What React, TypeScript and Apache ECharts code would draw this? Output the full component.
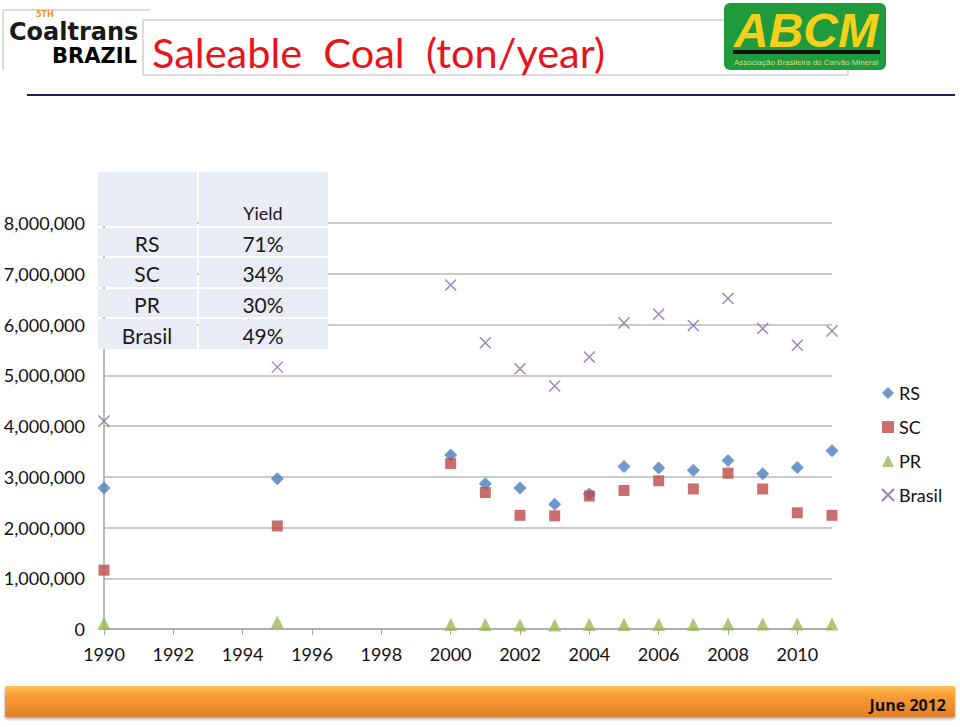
import React, { useEffect, useRef } from "react";
import * as echarts from "echarts";

const years = [1990, 1995, 2000, 2001, 2002, 2003, 2004, 2005, 2006, 2007, 2008, 2009, 2010, 2011];
const rsValues = [2780000, 2960000, 3430000, 2860000, 2780000, 2460000, 2660000, 3200000, 3170000, 3130000, 3320000, 3060000, 3180000, 3510000];
const scValues = [1160000, 2030000, 3260000, 2690000, 2240000, 2230000, 2620000, 2730000, 2920000, 2760000, 3070000, 2760000, 2290000, 2240000];
const prValues = [110000, 140000, 90000, 90000, 80000, 80000, 90000, 90000, 90000, 90000, 100000, 100000, 100000, 100000];
const brasilValues = [4100000, 5160000, 6780000, 5640000, 5130000, 4790000, 5360000, 6030000, 6200000, 5980000, 6510000, 5920000, 5590000, 5870000];

const seriesNames = ["RS", "SC", "PR", "Brasil"];
const yieldLabels = ["71%", "34%", "30%", "49%"];
const titleText = "Saleable  Coal  (ton/year)";
const footerText = "June 2012";

const FONT = "Lato, 'Open Sans', sans-serif";

export default function App() {
  const ref = useRef<HTMLDivElement>(null);
  useEffect(() => {
    document.body.style.margin = "0";
    const chart = echarts.init(ref.current!, undefined, { renderer: "svg" });
    const pair = (vals: number[]) => years.map((y, i) => [y, vals[i]]);
    const tableRows = seriesNames.map((n, i) => ({ n, v: yieldLabels[i] }));
    const rowTops = [228, 258, 289, 319];
    const rowH = [28, 29, 28, 30];
    const tableGraphics: any[] = [
      { type: "rect", shape: { x: 98, y: 172, width: 99, height: 54 }, style: { fill: "#e9ebf5" }, z: 100 },
      { type: "rect", shape: { x: 199, y: 172, width: 129, height: 54 }, style: { fill: "#e9ebf5" }, z: 100 },
      { type: "text", x: 263, y: 213, style: { text: "Yield", fontSize: 18, fontFamily: FONT, fill: "#1a1a1a", align: "center", verticalAlign: "middle" }, z: 101 },
    ];
    tableRows.forEach((r, i) => {
      tableGraphics.push(
        { type: "rect", shape: { x: 98, y: rowTops[i], width: 99, height: rowH[i] }, style: { fill: "#e9ebf5" }, z: 100 },
        { type: "rect", shape: { x: 199, y: rowTops[i], width: 129, height: rowH[i] }, style: { fill: "#e9ebf5" }, z: 100 },
        { type: "text", x: 147, y: rowTops[i] + rowH[i] / 2 + 1, style: { text: r.n, fontSize: 21, fontFamily: FONT, fill: "#1a1a1a", align: "center", verticalAlign: "middle" }, z: 101 },
        { type: "text", x: 263, y: rowTops[i] + rowH[i] / 2 + 1, style: { text: r.v, fontSize: 21, fontFamily: FONT, fill: "#1a1a1a", align: "center", verticalAlign: "middle" }, z: 101 }
      );
    });

    const crossPath = "path://M0,0 L10,10 M10,0 L0,10";

    chart.setOption({
      animation: false,
      backgroundColor: "#ffffff",
      grid: { left: 104, right: 128, top: 223, bottom: 98, containLabel: false },
      xAxis: {
        type: "value",
        min: 1990,
        max: 2011,
        interval: 2,
        axisLine: { show: true, lineStyle: { color: "#a6a6a6", width: 1.5 } },
        axisTick: { show: true, length: 6, lineStyle: { color: "#a6a6a6" } },
        splitLine: { show: false },
        axisLabel: { showMaxLabel: false, fontSize: 18, fontFamily: FONT, color: "#111", margin: 16, formatter: (v: number) => String(v) },
      },
      yAxis: {
        type: "value",
        min: 0,
        max: 8000000,
        interval: 1000000,
        axisLine: { show: true, lineStyle: { color: "#a6a6a6", width: 1.5 } },
        axisTick: { show: false },
        splitLine: { show: true, lineStyle: { color: "#b8b8b8", width: 1.5 } },
        axisLabel: {
          fontSize: 18,
          fontFamily: FONT,
          color: "#111",
          margin: 19,
          formatter: (v: number) => v.toLocaleString("en-US"),
        },
      },
      legend: {
        orient: "vertical",
        left: 876,
        top: 379,
        itemGap: 16,
        itemWidth: 12,
        itemHeight: 12,
        textStyle: { fontSize: 18, fontFamily: FONT, color: "#111" },
        data: seriesNames,
      },
      series: [
        { name: "RS", type: "scatter", symbol: "diamond", symbolSize: 13, itemStyle: { color: "#4a7ebb" }, data: pair(rsValues), z: 3 },
        { name: "SC", type: "scatter", symbol: "rect", symbolSize: 11, itemStyle: { color: "#be4b48" }, data: pair(scValues), z: 4 },
        { name: "PR", type: "scatter", symbol: "triangle", symbolSize: 13, itemStyle: { color: "#98b954" }, data: pair(prValues), z: 5 },
        {
          name: "Brasil",
          type: "scatter",
          symbol: crossPath,
          symbolSize: 11,
          itemStyle: { color: "transparent", borderColor: "#7d64a0", borderWidth: 1.4 },
          data: pair(brasilValues),
          z: 6,
        },
      ],
      graphic: [
        // top header frames
        { type: "line", shape: { x1: 3, y1: 10, x2: 150, y2: 10 }, style: { stroke: "#d0d0d0", lineWidth: 1.5 } },
        { type: "line", shape: { x1: 3, y1: 10, x2: 3, y2: 70 }, style: { stroke: "#d0d0d0", lineWidth: 1.5 } },
        { type: "line", shape: { x1: 143, y1: 20, x2: 725, y2: 20 }, style: { stroke: "#cfcfcf", lineWidth: 1.5 } },
        { type: "line", shape: { x1: 143, y1: 20, x2: 143, y2: 75 }, style: { stroke: "#cfcfcf", lineWidth: 1.5 } },
        { type: "line", shape: { x1: 143, y1: 75, x2: 848, y2: 75 }, style: { stroke: "#cfcfcf", lineWidth: 1.5 } },
        { type: "line", shape: { x1: 848, y1: 70, x2: 848, y2: 75 }, style: { stroke: "#cfcfcf", lineWidth: 1.5 } },
        // coaltrans logo
        { type: "text", x: 36, y: 14, style: { text: "5TH", fontSize: 8, fontWeight: "bold", fontFamily: "'DejaVu Sans', sans-serif", fill: "#e8962c", verticalAlign: "middle" } },
        { type: "text", x: 9, y: 32, style: { text: "Coaltrans", fontSize: 24, fontWeight: "bold", fontFamily: "'DejaVu Sans', sans-serif", fill: "#1a1a1a", verticalAlign: "middle" } },
        {
          type: "text",
          x: 52,
          y: 56,
          style: {
            text: "BRAZIL",
            fontSize: 21,
            fontWeight: "bold",
            fontFamily: "'DejaVu Sans', sans-serif",
            verticalAlign: "middle",
            fill: new echarts.graphic.LinearGradient(0, 0, 0, 1, [
              { offset: 0, color: "#f7c030" },
              { offset: 1, color: "#d9502a" },
            ]),
          },
        },
        // title
        { type: "text", x: 152, y: 52, style: { text: titleText, fontSize: 41.5, fontFamily: FONT, fill: "#e8141c", verticalAlign: "middle" } },
        // ABCM logo
        { type: "rect", shape: { x: 724, y: 3, width: 162, height: 67, r: 6 }, style: { fill: "#1f9a3c" } },
        { type: "text", x: 806, y: 30, style: { text: "ABCM", fontSize: 48, fontWeight: 900, fontStyle: "italic", fontFamily: "'Liberation Sans', Arial, sans-serif", fill: "#f6cf1a", align: "center", verticalAlign: "middle" } },
        { type: "rect", shape: { x: 733, y: 50, width: 147, height: 4 }, style: { fill: "#111" } },
        { type: "text", x: 806, y: 62, style: { text: "Associação Brasileira do Carvão Mineral", fontSize: 8, fontFamily: "'Liberation Sans', Arial, sans-serif", fill: "#d9d88a", align: "center", verticalAlign: "middle" } },
        // navy rule
        { type: "line", shape: { x1: 27, y1: 95, x2: 955, y2: 95 }, style: { stroke: "#1b2163", lineWidth: 2 } },
        // table
        ...tableGraphics,
        // footer bar
        {
          type: "rect",
          shape: { x: 5, y: 686, width: 950, height: 31 },
          style: {
            fill: new echarts.graphic.LinearGradient(0, 0, 0, 1, [
              { offset: 0, color: "#fcc35a" },
              { offset: 0.35, color: "#f99b33" },
              { offset: 1, color: "#e4802a" },
            ]),
            shadowColor: "rgba(0,0,0,0.35)",
            shadowBlur: 3,
            shadowOffsetY: 2,
          },
        },
        { type: "text", x: 946, y: 705, style: { text: footerText, fontSize: 16, fontWeight: "bold", fontFamily: "'Open Sans', sans-serif", fill: "#111", align: "right", verticalAlign: "middle" } },
      ],
    });
    return () => chart.dispose();
  }, []);
  return <div ref={ref} style={{ position: "absolute", left: 0, top: 0, width: 960, height: 727 }} />;
}
